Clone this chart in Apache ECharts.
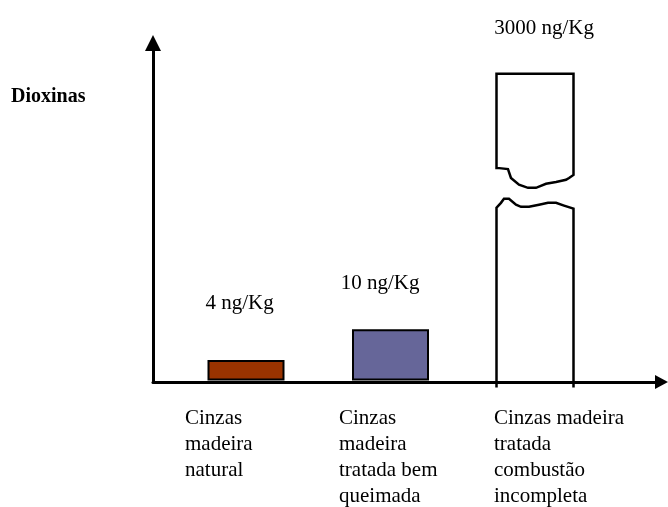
<!DOCTYPE html>
<html>
<head>
<meta charset="utf-8">
<script src="https://cdn.jsdelivr.net/npm/echarts@6/dist/echarts.min.js"></script>
<style>html,body{margin:0;padding:0;background:#fff}#c{width:668px;height:507px}</style>
</head>
<body>
<div id="c"></div>
<script>
// ---- data ----
const categories = ['Cinzas\nmadeira\nnatural', 'Cinzas\nmadeira\ntratada bem\nqueimada', 'Cinzas madeira\ntratada\ncombustão\nincompleta'];
const values = [4, 10, 3000];          // ng/Kg
const unit = 'ng/Kg';
const yTitle = 'Dioxinas';
const barColors = ['#993300', '#666699', '#ffffff'];
const brokenIndex = 2;                 // bar drawn with an axis break
const brokenDisplayValue = 60;         // height at which the broken bar is cut off

// ---- styling ----
const FONT = 'Liberation Serif';
const BAR_W = 77;
const labelShift = [61, 51.5, 41];
const valueLabel = [ {distance: 46.5, dx: -6.5}, {distance: 35, dx: -10.5}, {gap: 45, dx: 9} ];

const rich = {};
labelShift.forEach((w, i) => { rich['c' + i] = {width: w, align: 'left', fontFamily: FONT, fontSize: 21, lineHeight: 26, color: '#000'}; });

const normalData = values.map((v, i) => i === brokenIndex ? '-' : {
  value: v,
  itemStyle: {color: barColors[i], borderColor: '#000', borderWidth: 2},
  label: {show: true, position: 'top', distance: valueLabel[i].distance, offset: [valueLabel[i].dx, 0],
    formatter: v + ' ' + unit, fontFamily: FONT, fontSize: 21, color: '#000'}
});
const brokenData = [[brokenIndex, values[brokenIndex]]];

// break outline, as fractions of bar width / height
const upperCut = [[1,0.330],[0.942,0.340],[0.903,0.346],[0.773,0.353],[0.643,0.359],[0.513,0.372],[0.409,0.372],[0.292,0.362],[0.188,0.340],[0.149,0.311],[0.006,0.307],[0,0.307]];
const lowerCut = [[0,0.437],[0.058,0.421],[0.097,0.408],[0.162,0.408],[0.253,0.427],[0.318,0.434],[0.422,0.434],[0.552,0.427],[0.669,0.421],[0.773,0.421],[0.877,0.430],[1,0.440]];

const chart = echarts.init(document.getElementById('c'), null, {renderer: 'canvas'});
const YMAX = 66;
const gridTop = 43, gridBottom = 125;
chart.setOption({
  animation: false,
  backgroundColor: '#fff',
  title: {text: yTitle, left: 11, top: 87, padding: 0,
    textStyle: {fontFamily: FONT, fontWeight: 'bold', fontSize: 20, color: '#000'}},
  grid: [
    {left: 153, right: 6.5, top: gridTop, bottom: gridBottom},
    {left: 173.75, right: 668 - 607.25, top: gridTop, bottom: gridBottom}
  ],
  xAxis: [
    {gridIndex: 0, type: 'value', min: 0, max: 1, axisLabel: {show: false}, axisTick: {show: false}, splitLine: {show: false},
     axisLine: {show: true, symbol: ['none', 'triangle'], symbolSize: [14, 13], lineStyle: {color: '#000', width: 3}}},
    {gridIndex: 1, type: 'category', data: categories, axisLine: {show: false}, axisTick: {show: false},
     axisLabel: {margin: 25, align: 'right', verticalAlign: 'top', interval: 0,
       formatter: (val, idx) => val.split('\n').map(l => '{c' + idx + '|' + l + '}').join('\n'), rich: rich}}
  ],
  yAxis: [
    {gridIndex: 0, type: 'value', min: 0, max: YMAX, axisLabel: {show: false}, axisTick: {show: false}, splitLine: {show: false},
     axisLine: {show: true, symbol: ['none', 'triangle'], symbolSize: [16, 16], lineStyle: {color: '#000', width: 3}}},
    {gridIndex: 1, type: 'value', min: 0, max: YMAX, show: false, splitLine: {show: false}}
  ],
  series: [
    {type: 'bar', xAxisIndex: 1, yAxisIndex: 1, barWidth: BAR_W, data: normalData, z: 3},
    {type: 'custom', xAxisIndex: 1, yAxisIndex: 1, data: brokenData, z: 3,
     renderItem: function (params, api) {
       const idx = api.value(0);
       const val = api.value(1);
       if (!valueLabel[idx]) return null;
       const base = api.coord([idx, 0]);
       const top = api.coord([idx, brokenDisplayValue]);
       const x0 = base[0] - BAR_W / 2, w = BAR_W, y0 = top[1], h = base[1] - top[1];
       const P = p => [x0 + p[0] * w, y0 + p[1] * h];
       const upper = [[x0, y0], [x0 + w, y0]].concat(upperCut.map(P));
       const lowerPts = [[x0, base[1] + 7]].concat(lowerCut.map(P)).concat([[x0 + w, base[1] + 7]]);
       return {type: 'group', children: [
         {type: 'polygon', shape: {points: upper}, style: {fill: barColors[idx], stroke: '#000', lineWidth: 2.5}},
         {type: 'polyline', shape: {points: lowerPts}, style: {fill: null, stroke: '#000', lineWidth: 2.5}},
         {type: 'text', style: {x: base[0] + valueLabel[idx].dx, y: y0 - valueLabel[idx].gap, text: val + ' ' + unit,
           align: 'center', verticalAlign: 'middle', font: '21px "' + FONT + '"', fill: '#000'}}
       ]};
     }}
  ]
});
</script>
</body>
</html>
